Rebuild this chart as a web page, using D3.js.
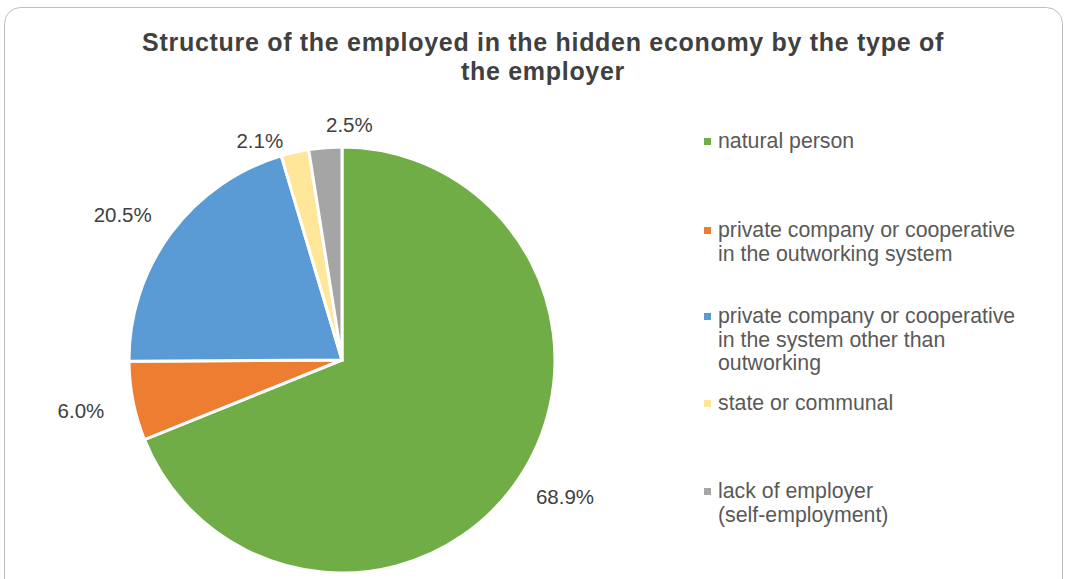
<!DOCTYPE html>
<html><head><meta charset="utf-8">
<script src="https://cdn.jsdelivr.net/npm/d3@7"></script>
<style>body{margin:0;background:#fff}svg{display:block}</style>
</head><body>
<script>
const categories = ["natural person","private company or cooperative in the outworking system","private company or cooperative in the system other than outworking","state or communal","lack of employer (self-employment)"];
const legendLines = [["natural person"],["private company or cooperative","in the outworking system"],["private company or cooperative","in the system other than","outworking"],["state or communal"],["lack of employer","(self-employment)"]];
const values = [68.9, 6.0, 20.5, 2.1, 2.5];
const valueLabels = ["68.9%","6.0%","20.5%","2.1%","2.5%"];
const colors = ["#70ad47","#ed7d31","#5b9bd5","#ffe699","#a5a5a5"];

const W=1067,H=579;
const FONT="Liberation Sans, Arial, sans-serif";
const svg=d3.select("body").append("svg").attr("width",W).attr("height",H);
svg.append("rect").attr("x",4.5).attr("y",7.5).attr("width",1058).attr("height",590).attr("rx",16)
  .attr("fill","#fff").attr("stroke","#bfbfbf").attr("stroke-width",1);

const title=svg.append("text").attr("text-anchor","middle").attr("font-family",FONT)
  .attr("font-weight","bold").attr("font-size",25).attr("letter-spacing",0.7).attr("fill","#404040");
title.append("tspan").attr("x",543).attr("y",51).text("Structure of the employed in the hidden economy by the type of");
title.append("tspan").attr("x",543).attr("y",80).text("the employer");

const cx=342,cy=360,R=213;
const pie=d3.pie().sort(null).value(d=>d)(values);
const arc=d3.arc().innerRadius(0).outerRadius(R);
const g=svg.append("g").attr("transform",`translate(${cx},${cy})`);
g.selectAll("path").data(pie).join("path").attr("d",arc).attr("fill",(d,i)=>colors[i])
  .attr("stroke","#fff").attr("stroke-width",3).attr("stroke-linejoin","miter");

const labelArc=d3.arc().innerRadius(263).outerRadius(263);
const labelAdj=[[5,-10],[-3,0],[-8,12],[-24,37],[28,27]];
g.selectAll("text.lbl").data(pie).join("text").attr("class","lbl")
  .attr("x",(d,i)=>labelArc.centroid(d)[0]+labelAdj[i][0])
  .attr("y",(d,i)=>labelArc.centroid(d)[1]+7+labelAdj[i][1])
  .attr("text-anchor","middle")
  .attr("font-family",FONT).attr("font-size",20.5).attr("fill","#404040")
  .text((d,i)=>valueLabels[i]);

const legY=[148,237,323,410,498];
const lg=svg.append("g");
legendLines.forEach((lines,i)=>{
  lg.append("rect").attr("x",704).attr("y",legY[i]-10).attr("width",7).attr("height",7).attr("fill",colors[i]);
  const t=lg.append("text").attr("font-family",FONT).attr("font-size",21.3).attr("fill","#595959");
  lines.forEach((l,j)=>t.append("tspan").attr("x",718).attr("y",legY[i]+j*23.5).text(l));
});
</script>
</body></html>
